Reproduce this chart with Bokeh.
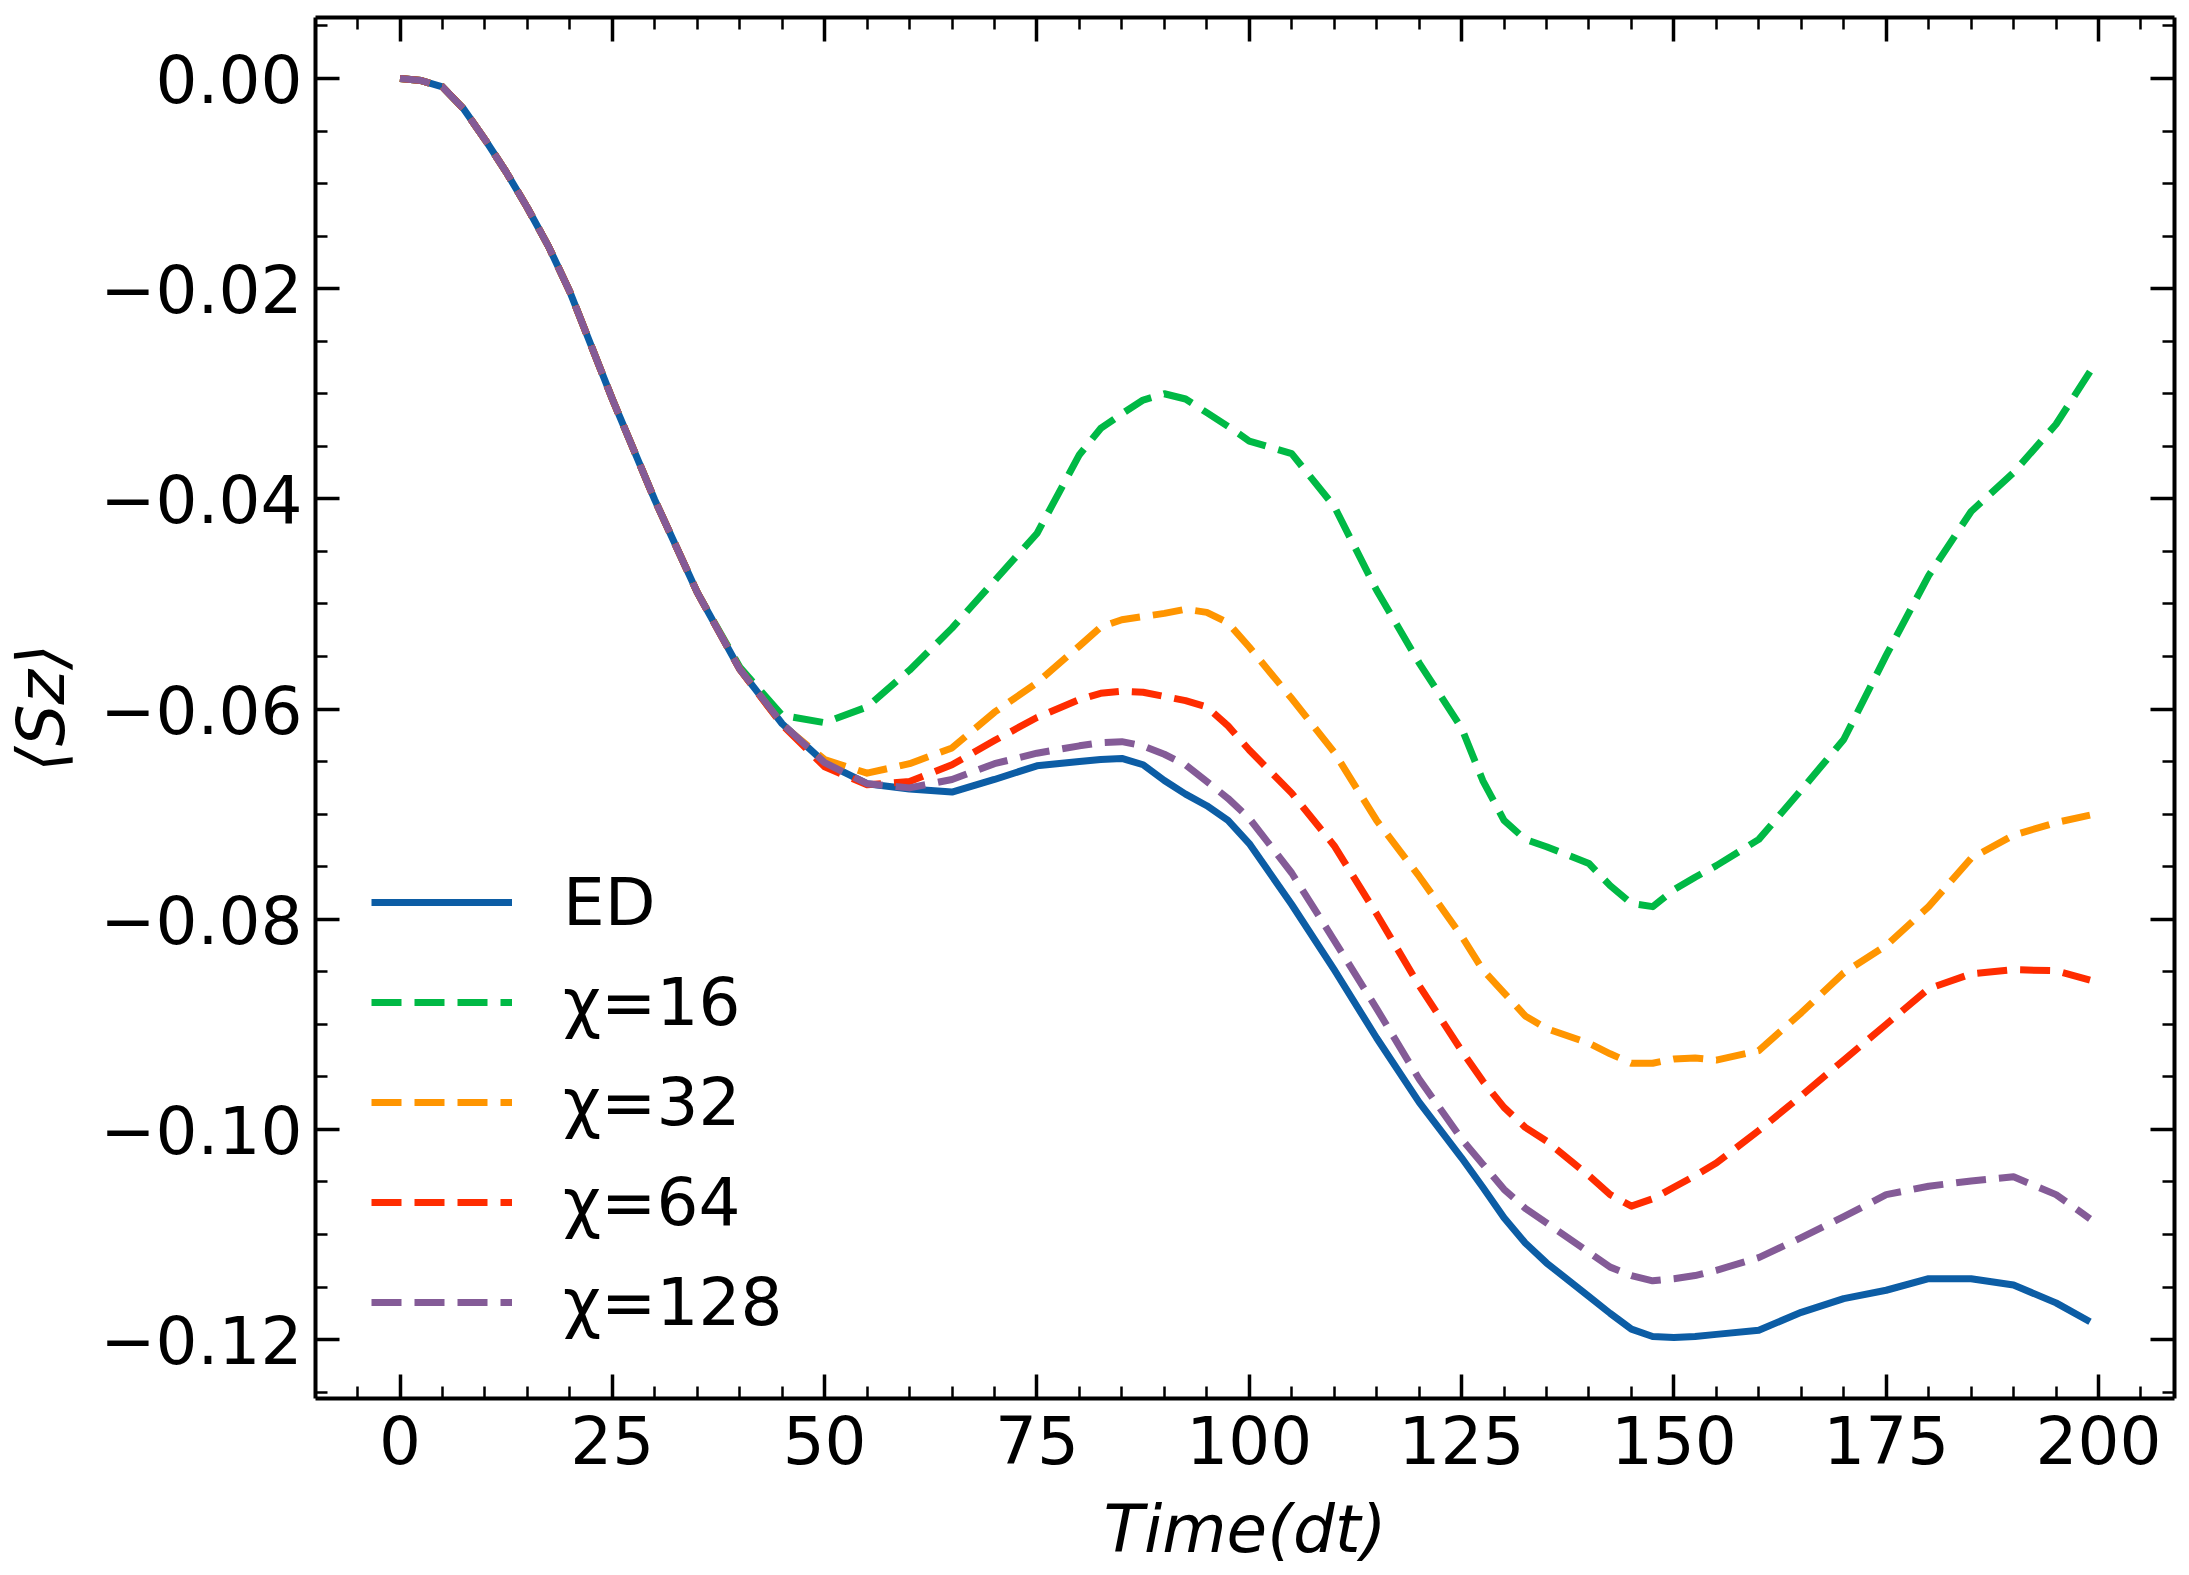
from bokeh.plotting import figure
from bokeh.models import (Range1d, LinearAxis, SingleIntervalTicker,
                          CustomJSTickFormatter)
from bokeh.embed import file_html
from bokeh.resources import INLINE

# ---------------- data ----------------
time = [0, 2.5, 5, 7.5, 10, 12.5, 15, 17.5, 20, 25, 30, 35, 40,
        45, 50, 55, 60, 65, 70, 75, 80,
        82.5, 85, 87.5, 90, 92.5, 95, 97.5, 100,
        105, 110, 115, 120, 125,
        127.5, 130, 132.5, 135,
        140, 142.5, 145, 147.5, 150, 152.5, 155,
        160, 165, 170, 175, 180, 185, 190, 195, 199]

ed = [0.0, -0.0002, -0.0008, -0.0029, -0.0058, -0.0089, -0.0123, -0.0160,
      -0.0203, -0.0305, -0.0401, -0.0489, -0.0562,
      -0.0614, -0.0651, -0.0671, -0.0676, -0.0679, -0.0667, -0.0654, -0.0650,
      -0.0648, -0.0647, -0.0653, -0.0668, -0.0681, -0.0692, -0.0706, -0.0728,
      -0.0786, -0.0848, -0.0913, -0.0974, -0.1027,
      -0.1055, -0.1084, -0.1108, -0.1127,
      -0.1159, -0.1175, -0.1190, -0.1197, -0.1198, -0.1197, -0.1195,
      -0.1191, -0.1174, -0.1161, -0.1153, -0.1142, -0.1142, -0.1148, -0.1165,
      -0.1183]

chi16 = [0.0, -0.0002, -0.0008, -0.0029, -0.0058, -0.0089, -0.0123, -0.0160,
         -0.0203, -0.0305, -0.0401, -0.0489, -0.0560,
         -0.0606, -0.0613, -0.0598, -0.0563, -0.0523, -0.0478, -0.0433, -0.0358,
         -0.0333, -0.0319, -0.0306, -0.0300, -0.0305, -0.0318, -0.0331, -0.0345,
         -0.0357, -0.0407, -0.0487, -0.0556, -0.0618,
         -0.0668, -0.0706, -0.0724, -0.0731,
         -0.0747, -0.0768, -0.0785, -0.0788, -0.0772, -0.0760, -0.0749,
         -0.0724, -0.0677, -0.0629, -0.0549, -0.0473, -0.0412, -0.0375, -0.0329,
         -0.0279]

chi32 = [0.0, -0.0002, -0.0008, -0.0029, -0.0058, -0.0089, -0.0123, -0.0160,
         -0.0203, -0.0305, -0.0401, -0.0489, -0.0562,
         -0.0615, -0.0648, -0.0661, -0.0652, -0.0637, -0.0603, -0.0575, -0.0540,
         -0.0522, -0.0515, -0.0512, -0.0509, -0.0505, -0.0508, -0.0518, -0.0541,
         -0.0590, -0.0641, -0.0706, -0.0759, -0.0816,
         -0.0848, -0.0870, -0.0892, -0.0904,
         -0.0918, -0.0928, -0.0937, -0.0937, -0.0933, -0.0932, -0.0934,
         -0.0925, -0.0889, -0.0851, -0.0825, -0.0788, -0.0742, -0.0720, -0.0708,
         -0.0701]

chi64 = [0.0, -0.0002, -0.0008, -0.0029, -0.0058, -0.0089, -0.0123, -0.0160,
         -0.0203, -0.0305, -0.0401, -0.0489, -0.0562,
         -0.0615, -0.0655, -0.0672, -0.0669, -0.0653, -0.0630, -0.0608, -0.0591,
         -0.0585, -0.0583, -0.0584, -0.0588, -0.0592, -0.0598, -0.0616, -0.0639,
         -0.0680, -0.0730, -0.0795, -0.0863, -0.0925,
         -0.0954, -0.0979, -0.0998, -0.1011,
         -0.1044, -0.1062, -0.1073, -0.1066, -0.1055, -0.1044, -0.1032,
         -0.1001, -0.0968, -0.0934, -0.0900, -0.0866, -0.0852, -0.0848, -0.0849,
         -0.0858]

chi128 = [0.0, -0.0002, -0.0008, -0.0029, -0.0058, -0.0089, -0.0123, -0.0160,
          -0.0203, -0.0305, -0.0401, -0.0489, -0.0562,
          -0.0614, -0.0651, -0.0671, -0.0675, -0.0667, -0.0652, -0.0642, -0.0635,
          -0.0632, -0.0631, -0.0635, -0.0643, -0.0653, -0.0669, -0.0685, -0.0704,
          -0.0756, -0.0820, -0.0885, -0.0952, -0.1009,
          -0.1033, -0.1057, -0.1075, -0.1089,
          -0.1117, -0.1131, -0.1139, -0.1144, -0.1142, -0.1139, -0.1134,
          -0.1122, -0.1103, -0.1083, -0.1062, -0.1054, -0.1049, -0.1045, -0.1062,
          -0.1085]

series_labels = ["ED", "χ=16", "χ=32", "χ=64", "χ=128"]
x_label = "Time(dt)"
y_label = "\u27e8Sz\u27e9"
x_tick_step = 25
y_tick_step = 0.02

# ---------------- styling ----------------
FONT = "DejaVu Sans"
FS = "66px"
colors = ["#0C5DA5", "#00B945", "#FF9500", "#FF2C00", "#845B97"]

p = figure(width=2189, height=1575,
           frame_width=1859, frame_height=1381,
           min_border_left=315, min_border_right=15,
           min_border_top=17, min_border_bottom=177,
           x_range=Range1d(-9.95, 208.95), y_range=Range1d(-0.1256, 0.0058),
           output_backend="svg", toolbar_location=None)
p.outline_line_color = None
p.grid.visible = False
p.background_fill_color = "white"
p.border_fill_color = "white"

xt = SingleIntervalTicker(interval=x_tick_step, num_minor_ticks=5)
yt = SingleIntervalTicker(interval=y_tick_step, num_minor_ticks=4)

yfmt = CustomJSTickFormatter(code="""
    const s = Math.abs(tick).toFixed(2);
    return (tick < -1e-9 ? "\u2212" : "") + s;
""")

def style_axis(ax, show_labels):
    ax.axis_line_width = 4
    ax.axis_line_color = "black"
    ax.major_tick_in = 24
    ax.major_tick_out = 0
    ax.minor_tick_in = 12
    ax.minor_tick_out = 0
    ax.major_tick_line_width = 3.5
    ax.minor_tick_line_width = 2.5
    ax.major_tick_line_color = "black"
    ax.minor_tick_line_color = "black"
    if show_labels:
        ax.major_label_text_font = FONT
        ax.major_label_text_font_size = FS
        ax.major_label_text_color = "black"
    else:
        ax.major_label_text_font_size = "0px"
        ax.major_label_text_color = None

xa = p.xaxis[0]
xa.ticker = xt
style_axis(xa, True)
xa.major_label_standoff = 16
xa.axis_label = x_label
xa.axis_label_text_font = FONT
xa.axis_label_text_font_size = FS
xa.axis_label_text_font_style = "italic"
xa.axis_label_text_color = "black"
xa.axis_label_standoff = 24

ya = p.yaxis[0]
ya.ticker = yt
ya.formatter = yfmt
style_axis(ya, True)
ya.major_label_standoff = 13
ya.axis_label = y_label
ya.axis_label_text_font = FONT
ya.axis_label_text_font_size = FS
ya.axis_label_text_font_style = "italic"
ya.axis_label_text_color = "black"
ya.axis_label_standoff = 17

top = LinearAxis(ticker=xt)
style_axis(top, False)
p.add_layout(top, "above")
right = LinearAxis(ticker=yt)
style_axis(right, False)
p.add_layout(right, "right")

series = [ed, chi16, chi32, chi64, chi128]
for i, (vals, lab, col) in enumerate(zip(series, series_labels, colors)):
    kw = dict(line_color=col, line_width=7, line_join="round", legend_label=lab)
    if i > 0:
        kw["line_dash"] = "30 13"
    p.line(time, vals, **kw)

lg = p.legend[0]
lg.location = (56, 48)
lg.padding = 0
lg.margin = 0
lg.spacing = 4
lg.glyph_width = 141
lg.glyph_height = 96
lg.label_standoff = 51
lg.label_text_font = FONT
lg.label_text_font_size = FS
lg.label_text_color = "black"
lg.border_line_color = None
lg.background_fill_alpha = 0

open("out.html", "w", encoding="utf-8").write(file_html(p, INLINE))
